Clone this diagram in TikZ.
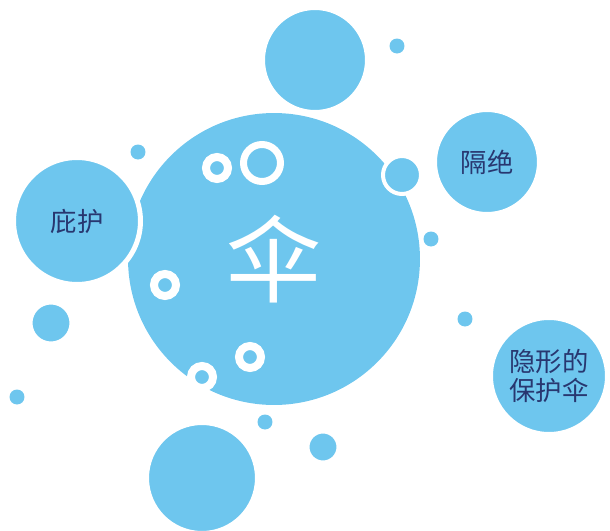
\documentclass[tikz,border=0pt]{standalone}
\usepackage{fontspec}
\newfontfamily\cjk{Noto Sans CJK SC}
\usetikzlibrary{shapes.geometric}
\definecolor{BubbleBlue}{RGB}{110,198,238}
\definecolor{InkBlue}{RGB}{40,55,112}
\tikzstyle{core} = [circle, inner sep=0pt, minimum size=5.84cm, fill=BubbleBlue, text=white, font=\cjk\fontsize{54}{54}\selectfont]
\tikzstyle{bubble} = [circle, inner sep=0pt, fill=BubbleBlue, draw=white, line width=0.1cm, text=InkBlue, align=center, font=\cjk\fontsize{15}{17}\selectfont]
\tikzstyle{dot} = [circle, inner sep=0pt, minimum size=0.3cm, fill=BubbleBlue]
\tikzstyle{ring} = [circle, inner sep=0pt, minimum size=0.44cm, fill=BubbleBlue, draw=white, line width=0.16cm]

\begin{document}
\begin{tikzpicture}[x=0.02cm, y=-0.02cm]

\useasboundingbox (0,0) rectangle (610,531);

% centre
\node (umbrella) [core] at (274,259) {\raisebox{-2pt}{伞}};

% big bubbles
\node (top) [bubble, minimum size=2.1cm] at (315,60) {};
\node (shelter) [bubble, minimum size=2.54cm] at (77,221) {庇护};
\node (isolate) [bubble, minimum size=2.1cm] at (487,162) {隔绝};
\node (hidden) [bubble, minimum size=2.34cm] at (549,376) {隐形的\\保护伞};
\node (bottom) [bubble, minimum size=2.22cm] at (202,478) {};

% middle bubbles
\node (edge) [bubble, minimum size=0.76cm, line width=0.08cm] at (402,175) {};
\node (left) [bubble, minimum size=0.84cm] at (51,323) {};
\node (low) [bubble, minimum size=0.64cm] at (323,447) {};

% dots
\node (dot1) [dot] at (397,46) {};
\node (dot2) [dot] at (138,152) {};
\node (dot3) [dot] at (431,239) {};
\node (dot4) [dot] at (465,319) {};
\node (dot5) [dot] at (17,397) {};
\node (dot6) [dot] at (265,422) {};

% rings
\node (ring1) [ring] at (217,168) {};
\node (ring2) [ring, minimum size=0.74cm, line width=0.14cm] at (262,163) {};
\node (ring3) [ring] at (165,285) {};
\node (ring4) [ring] at (250,357) {};
\node (ring5) [ring] at (202,377) {};

\end{tikzpicture}
\end{document}
